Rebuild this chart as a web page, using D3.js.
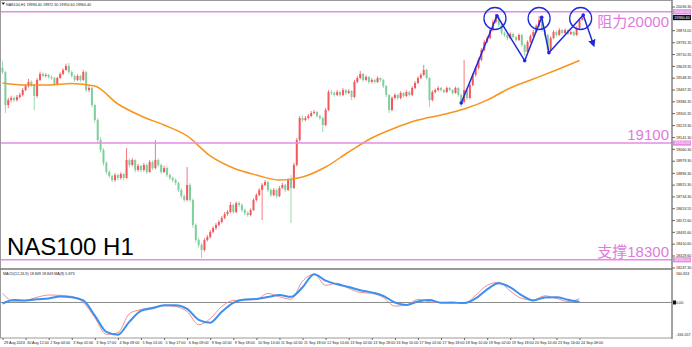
<!DOCTYPE html>
<html><head><meta charset="utf-8">
<script src="https://cdn.jsdelivr.net/npm/d3@7"></script>
<style>
body{margin:0;background:#fff}
svg{display:block}
text{font-family:"Liberation Sans",Arial,"Noto Sans CJK SC",sans-serif}
</style>
</head><body><svg id="c" width="692" height="347"></svg>
<script>
// ---------- DATA (2-hour candles, NAS100) ----------
const firstOpen = 19615;
const closes = [
19587,19361,19395,19409,19395,19416,19430,19464,19491,19519,
19498,19423,19533,19574,19560,19567,19553,19546,19505,19546,
19574,19601,19629,19587,19560,19533,19560,19533,19587,19464,
19478,19361,19258,19121,19053,18964,18902,18874,18847,18881,
18861,18888,18861,18984,18950,18984,18916,18943,18916,18950,
18902,18970,18929,18984,18950,18902,18929,18881,18861,18847,
18827,18779,18737,18710,18813,18710,18539,18436,18402,18367,
18436,18456,18491,18518,18539,18559,18587,18614,18628,18676,
18628,18689,18676,18641,18621,18607,18641,18710,18744,18779,
18813,18833,18779,18744,18779,18737,18792,18813,18779,18847,
18792,18950,19121,19272,19258,19272,19286,19306,19313,19286,
19272,19224,19327,19450,19444,19430,19450,19430,19464,19444,
19457,19416,19519,19546,19574,19533,19553,19519,19533,19519,
19546,19533,19491,19430,19327,19409,19430,19409,19444,19423,
19450,19430,19478,19512,19546,19567,19601,19546,19395,19450,
19464,19478,19464,19450,19478,19464,19444,19478,19430,19382,
19464,19409,19498,19567,19615,19670,19738,19793,19820,19875,
19930,19964,19910,19855,19841,19820,19848,19827,19807,19841,
19772,19725,19793,19834,19862,19903,19944,19875,19841,19738,
19820,19862,19841,19875,19855,19875,19848,19862,19841,19889,
19944,19960];
const highs = [
19660,19595,19410,19425,19420,19430,19445,19478,19505,19540,
19530,19505,19545,19590,19585,19580,19575,19565,19555,19555,
19585,19612,19645,19649,19598,19570,19572,19568,19601,19595,
19495,19485,19370,19270,19140,19065,18975,18915,18885,18895,
18890,18900,18895,19066,18995,18998,18990,18958,18950,18965,
18958,18985,18980,19121,18995,18960,18945,18940,18892,18872,
18858,18835,18790,18748,18936,18825,18720,18550,18450,18415,
18448,18470,18505,18530,18552,18572,18600,18628,18642,18696,
18685,18700,18700,18688,18652,18632,18652,18722,18756,18792,
18825,18847,18840,18790,18792,18788,18805,18827,18820,18860,
18880,18965,19135,19286,19290,19285,19300,19320,19327,19320,
19295,19280,19340,19464,19462,19452,19464,19458,19478,19470,
19470,19464,19533,19560,19595,19580,19565,19560,19545,19540,
19558,19552,19540,19498,19435,19420,19442,19438,19455,19450,
19462,19458,19490,19525,19558,19580,19635,19610,19552,19462,
19475,19490,19485,19472,19488,19485,19470,19488,19485,19440,
19670,19475,19510,19580,19628,19685,19752,19808,19835,19890,
19945,19985,19970,19918,19865,19850,19860,19858,19835,19852,
19848,19780,19805,19846,19875,19915,19971,19950,19882,19848,
19832,19875,19870,19888,19882,19886,19880,19872,19868,19900,
19958,19985];
const lows = [
19575,19306,19340,19380,19380,19385,19405,19420,19455,19480,
19485,19327,19410,19525,19550,19550,19540,19535,19490,19498,
19540,19565,19595,19575,19548,19520,19525,19520,19525,19450,
19450,19345,19240,19100,19035,18945,18885,18860,18833,18835,
18845,18850,18845,18855,18935,18940,18900,18905,18900,18905,
18888,18895,18915,18920,18935,18888,18895,18868,18848,18833,
18813,18765,18722,18696,18700,18695,18520,18420,18385,18312,
18355,18425,18445,18480,18505,18528,18550,18578,18602,18620,
18615,18620,18662,18628,18605,18595,18598,18635,18700,18735,
18573,18805,18765,18730,18735,18722,18730,18785,18765,18770,
18552,18785,18940,19110,19245,19250,19262,19278,19298,19275,
19260,19176,19215,19320,19430,19418,19422,19418,19422,19430,
19435,19395,19408,19510,19538,19520,19525,19505,19510,19508,
19512,19520,19478,19415,19306,19318,19400,19398,19400,19412,
19415,19420,19422,19470,19505,19538,19560,19535,19348,19385,
19440,19455,19452,19440,19442,19455,19432,19438,19418,19348,
19372,19395,19400,19490,19555,19605,19660,19728,19785,19810,
19865,19920,19895,19840,19828,19805,19812,19815,19793,19800,
19760,19697,19718,19785,19825,19855,19895,19862,19828,19718,
19730,19812,19830,19835,19845,19848,19838,19840,19832,19835,
19880,19940];

// moving average, one value every 8 candles
const maStep = 8;
const maValues = [19512,19498,19498,19509,19491,19368,19286,19224,19149,19012,
  18929,18881,18847,18868,18936,19039,19135,19204,19258,19293,
  19334,19395,19478,19539,19601,19666];

// MACD, one value every 4 candles
const macdStep = 4;
const macdMain = [45,6,10,26,37,35,30,0,-75,-158,-150,-55,-35,-24,-16,-20,-45,-110,-80,-20,
  10,12,15,45,28,16,105,140,85,95,70,50,45,25,-18,-13,15,4,-1,2,-6,35,85,100,57,20,12,33,20,5,18];
const macdSignal = [-5,12,10,16,20,29,26,10,-65,-146,-160,-95,-42,-29,-14,-14,-32,-86,-100,-46,
  -2,15,17,27,37,28,75,140,108,90,77,61,50,33,0,-12,5,12,-1,-1,-3,20,65,95,75,35,10,25,26,14,4];

const timeLabels = ["29 Aug 2024","30 Aug 12:00","2 Sep 04:00","3 Sep 01:00","3 Sep 17:00","4 Sep 09:00",
  "5 Sep 01:00","5 Sep 17:00","6 Sep 09:00","9 Sep 02:00","9 Sep 18:00","10 Sep 10:00","11 Sep 02:00",
  "11 Sep 18:00","12 Sep 10:00","13 Sep 02:00","13 Sep 18:00","16 Sep 10:00","17 Sep 02:00","17 Sep 18:00",
  "18 Sep 10:00","19 Sep 02:00","19 Sep 18:00","20 Sep 10:00","23 Sep 16:00","24 Sep 08:00"];

const priceTicks = [20036.30,19874.05,19791.35,19710.35,19629.35,19548.35,19467.35,19386.35,
  19305.35,19223.30,19141.30,19060.30,18979.30,18896.30,18815.30,18734.30,18653.55,18572.60,18491.60,
  18410.60,18329.60,18247.30];
const macdTicks = [160.824, 0, -166.057];
const macdTickLabels = ["160.824","0.00","-166.057"];

const levels = [20000, 19100, 18300];
const levelLabels = ["阻力20000","19100","支撑18300"];
const levelBoxLabels = ["20000.00","19100.00","18300.00"];
const lastPrice = 19960.40;

const zigBars = [159, 171.4, 181, 186.9, 189.4, 201.3, 204.8];
const zigPrices = [19375, 19973, 19665, 19962, 19720, 19978, 19777];
const circleBars = [170.7, 186, 200.4];
const circlePrices = [19954, 19954, 19954];

const headerText = "NAS100,H1  19994.40 19972.30 19950.60 19960.40";
const macdHeader = "MACD(12,26,9) 18.849 18.849 MA(9) 5.873";
const titleText = "NAS100 H1";

// ---------- DRAW ----------
const svg = d3.select("#c");
const AX = 672, MAIN_T = 1, MAIN_B = 268, MACD_T = 270, MACD_B = 338;
const FS = 3.7;
const x = d3.scaleLinear().domain([0, closes.length - 1]).range([2.5, 2.5 + (closes.length - 1) * 2.885]);
const y = d3.scaleLinear().domain([18247.3, 20036.3]).range([267.5, 6.5]);
const ym = d3.scaleLinear().domain([-166.057, 160.824]).range([336, 270]);

const pink = "#e68be6", pinkText = "#e07ade", blue = "#1f2bd8";
const upCol = "#f4575c", dnCol = "#7fcf9d";

const defs = svg.append("defs");
defs.append("clipPath").attr("id","cm").append("rect").attr("x",1).attr("y",MAIN_T).attr("width",AX-1).attr("height",MAIN_B-MAIN_T);
defs.append("clipPath").attr("id","cd").append("rect").attr("x",1).attr("y",MACD_T).attr("width",AX-1).attr("height",MACD_B-MACD_T);
defs.append("marker").attr("id","arr").attr("viewBox","0 0 10 10").attr("refX",6).attr("refY",5)
  .attr("markerWidth",5).attr("markerHeight",5).attr("orient","auto")
  .append("path").attr("d","M0,0 L10,5 L0,10 Z").attr("fill",blue);

// frame
svg.append("rect").attr("x",0.5).attr("y",0.5).attr("width",AX-0.5).attr("height",MACD_B-0.5)
  .attr("fill","none").attr("stroke","#9a9a9a").attr("stroke-width",1);
svg.append("line").attr("x1",0).attr("x2",AX).attr("y1",269).attr("y2",269).attr("stroke","#777").attr("stroke-width",1.6);

// candles
const opens = closes.map((c, i) => i === 0 ? firstOpen : closes[i - 1]);
const candles = closes.map((c, i) => ({i, o: opens[i], c, h: Math.max(highs[i], c, opens[i]), l: Math.min(lows[i], c, opens[i])}));
const gc = svg.append("g").attr("clip-path","url(#cm)");
gc.selectAll("line.w").data(candles).join("line")
  .attr("x1", d => x(d.i)).attr("x2", d => x(d.i))
  .attr("y1", d => y(d.h)).attr("y2", d => y(d.l))
  .attr("stroke", d => d.c >= d.o ? upCol : dnCol).attr("stroke-width", 0.8);
gc.selectAll("rect.b").data(candles).join("rect")
  .attr("x", d => x(d.i) - 1).attr("width", 2)
  .attr("y", d => y(Math.max(d.o, d.c)))
  .attr("height", d => Math.max(0.8, Math.abs(y(d.o) - y(d.c))))
  .attr("fill", d => d.c >= d.o ? upCol : dnCol);

// level lines
svg.append("g").selectAll("line").data(levels).join("line")
  .attr("x1", 1).attr("x2", AX).attr("y1", d => y(d)).attr("y2", d => y(d))
  .attr("stroke", pink).attr("stroke-width", 1.5);

// moving average
const maLine = d3.line().x((d, k) => x(k * maStep)).y(d => y(d)).curve(d3.curveMonotoneX);
gc.append("path").attr("d", maLine(maValues)).attr("fill","none").attr("stroke","#f7941d").attr("stroke-width",1.5);

// level labels
const lvlOff = [15, -3, -3];
svg.append("g").selectAll("text").data(levels).join("text")
  .attr("x", 669).attr("y", (d, i) => y(d) + lvlOff[i])
  .attr("text-anchor","end").attr("font-size",15).attr("fill",pinkText)
  .text((d, i) => levelLabels[i]);

// title
svg.append("text").attr("x",7).attr("y",255).attr("font-size",24).attr("fill","#000").text(titleText);

// header
svg.append("path").attr("d","M1.5,2.5 L5,2.5 L3.25,5 Z").attr("fill","#222");
svg.append("text").attr("x",6).attr("y",5.5).attr("font-size",FS).attr("fill","#222").text(headerText);
svg.append("text").attr("x",3).attr("y",275).attr("font-size",FS).attr("fill","#222").text(macdHeader);

// annotations
const zig = zigBars.map((b, i) => [x(b), y(zigPrices[i])]);
svg.append("path").attr("d", d3.line()(zig)).attr("fill","none").attr("stroke",blue)
  .attr("stroke-width",1.5).attr("stroke-linejoin","round").attr("marker-end","url(#arr)");
svg.append("g").selectAll("circle").data(zig.slice(0, -1)).join("circle")
  .attr("cx", d => d[0]).attr("cy", d => d[1]).attr("r", 1.8).attr("fill", blue);
svg.append("g").selectAll("circle").data(circleBars).join("circle")
  .attr("cx", d => x(d)).attr("cy", (d, i) => y(circlePrices[i])).attr("r", 11)
  .attr("fill","none").attr("stroke",blue).attr("stroke-width",1.3);

// MACD
svg.append("line").attr("x1",1).attr("x2",AX).attr("y1",ym(0)).attr("y2",ym(0)).attr("stroke","#8a8a8a").attr("stroke-width",1);
const gm = svg.append("g").attr("clip-path","url(#cd)");
const mLine = d3.line().x((d, k) => x(k * macdStep)).y(d => ym(d)).curve(d3.curveMonotoneX);
gm.append("path").attr("d", mLine(macdMain)).attr("fill","none").attr("stroke","#f58c8c").attr("stroke-width",1);
gm.append("path").attr("d", mLine(macdSignal)).attr("fill","none").attr("stroke","#3d8ff0").attr("stroke-width",2);

// right axis line
svg.append("line").attr("x1",AX).attr("x2",AX).attr("y1",0).attr("y2",MACD_B+1).attr("stroke","#777").attr("stroke-width",1);

// price axis
const ya = d3.axisRight(y).tickValues(priceTicks).tickSize(3).tickPadding(1).tickFormat(d3.format(".2f"));
svg.append("g").attr("transform",`translate(${AX},0)`).call(ya)
  .attr("font-size",FS).attr("font-family","Liberation Sans, Arial, sans-serif")
  .call(g => g.select(".domain").remove())
  .call(g => g.selectAll("line").attr("stroke","#666"))
  .call(g => g.selectAll("text").attr("fill","#222"));

// MACD axis
const yma = d3.axisRight(ym).tickValues(macdTicks).tickSize(0).tickPadding(4).tickFormat((d, i) => macdTickLabels[i]);
svg.append("g").attr("transform",`translate(${AX},0)`).call(yma)
  .attr("font-size",FS).attr("font-family","Liberation Sans, Arial, sans-serif")
  .call(g => g.select(".domain").remove())
  .call(g => g.selectAll("text").attr("fill","#222")
     .attr("dy", (d, i) => i === 0 ? "1.2em" : (i === 2 ? "-0.1em" : "0.32em")));
svg.append("rect").attr("x",AX+1).attr("y",ym(0)-2).attr("width",3).attr("height",4).attr("fill","#111");

// level boxes on axis
const gb = svg.append("g");
levels.forEach((lv, i) => {
  gb.append("rect").attr("x",AX+1).attr("y",y(lv)-2.6).attr("width",18).attr("height",5.2).attr("fill",pink);
  gb.append("text").attr("x",AX+2.3).attr("y",y(lv)+1.4).attr("font-size",FS).attr("fill","#fff").text(levelBoxLabels[i]);
});
gb.append("rect").attr("x",AX+1).attr("y",y(lastPrice)-2.6).attr("width",18).attr("height",5.2).attr("fill","#111");
gb.append("text").attr("x",AX+2.3).attr("y",y(lastPrice)+1.4).attr("font-size",FS).attr("fill","#fff").text(d3.format(".2f")(lastPrice));

// time axis
const xa = d3.axisBottom(x).tickValues(d3.range(0, closes.length, 8)).tickSize(2).tickPadding(1)
  .tickFormat((d, i) => timeLabels[i]);
svg.append("g").attr("transform",`translate(0,${MACD_B})`).call(xa)
  .attr("font-size",FS).attr("font-family","Liberation Sans, Arial, sans-serif")
  .call(g => g.select(".domain").remove())
  .call(g => g.selectAll("line").attr("stroke","#666"))
  .call(g => g.selectAll("text").attr("text-anchor","start").attr("dx",1).attr("fill","#222"));
</script>
</body></html>
